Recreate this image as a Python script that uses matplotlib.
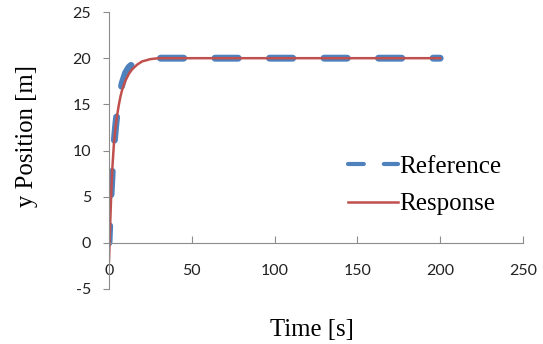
import matplotlib.pyplot as plt

plt.rcParams["axes.unicode_minus"] = False

# Reference trajectory
ref_t = [0, 1, 2, 3, 4, 5, 6, 7, 8, 10, 12, 15, 20, 25, 30, 50, 100, 150, 200]
ref_y = [0, 4.4, 7.9, 10.6, 12.6, 14.3, 15.5, 16.5, 17.3, 18.4, 19.0, 19.5, 19.9, 19.96, 20, 20, 20, 20, 20]

# System response
resp_t = [0, 0.5, 1, 1.5, 2, 3, 4, 5, 6, 7, 8, 10, 12, 14, 17, 20, 25, 30, 40, 100, 200]
resp_y = [-2.0, 0.8, 3.5, 6.0, 8.0, 10.8, 12.6, 13.9, 15.0, 15.9, 16.6, 17.6, 18.3, 18.8, 19.3, 19.65, 19.9, 20.0, 20.0, 20.0, 20.0]

x_ticks = [0, 50, 100, 150, 200, 250]
y_ticks = [-5, 0, 5, 10, 15, 20, 25]

fig = plt.figure(figsize=(5.43, 3.44), dpi=100)
ax = fig.add_axes([0.2007, 0.16, 0.7624, 0.805])

ax.plot(ref_t, ref_y, color="#4f81bd", lw=5, linestyle=(0.9, (3.35, 4.5)),
        dash_capstyle="round", label="Reference")
ax.plot(resp_t, resp_y, color="#c0504d", lw=1.8, label="Response")

ax.set_xlim(0, 250)
ax.set_ylim(-5, 25)
ax.set_xticks(x_ticks)
ax.set_yticks(y_ticks)

for s in ["top", "right"]:
    ax.spines[s].set_visible(False)
ax.spines["bottom"].set_position(("data", 0))
for s in ["bottom", "left"]:
    ax.spines[s].set_color("#8c8c8c")
    ax.spines[s].set_linewidth(0.8)

ax.tick_params(axis="x", direction="in", length=5, color="#8c8c8c", pad=15)
ax.tick_params(axis="y", direction="out", length=4, color="#8c8c8c", pad=9)
for lab in ax.get_xticklabels() + ax.get_yticklabels():
    lab.set_fontfamily("Lato")
    lab.set_fontsize(11.5)
    lab.set_color("#222222")

fig.text(0.575, 0.04, "Time [s]", family="Liberation Serif", fontsize=17.8,
         ha="center", va="center")
fig.text(0.05, 0.605, "y Position [m]", family="Liberation Serif", fontsize=17.8,
         ha="center", va="center", rotation=90)

leg = ax.legend(loc="center left", bbox_to_anchor=(0.522, 0.374), frameon=False,
                prop={"family": "Liberation Serif", "size": 18},
                handlelength=2.0, handletextpad=0.05, labelspacing=0.6)
leg.legend_handles[0].set_linewidth(3)
leg.legend_handles[0].set_linestyle((0, (3.8, 4.8)))

fig.savefig("out.png", dpi=100)
